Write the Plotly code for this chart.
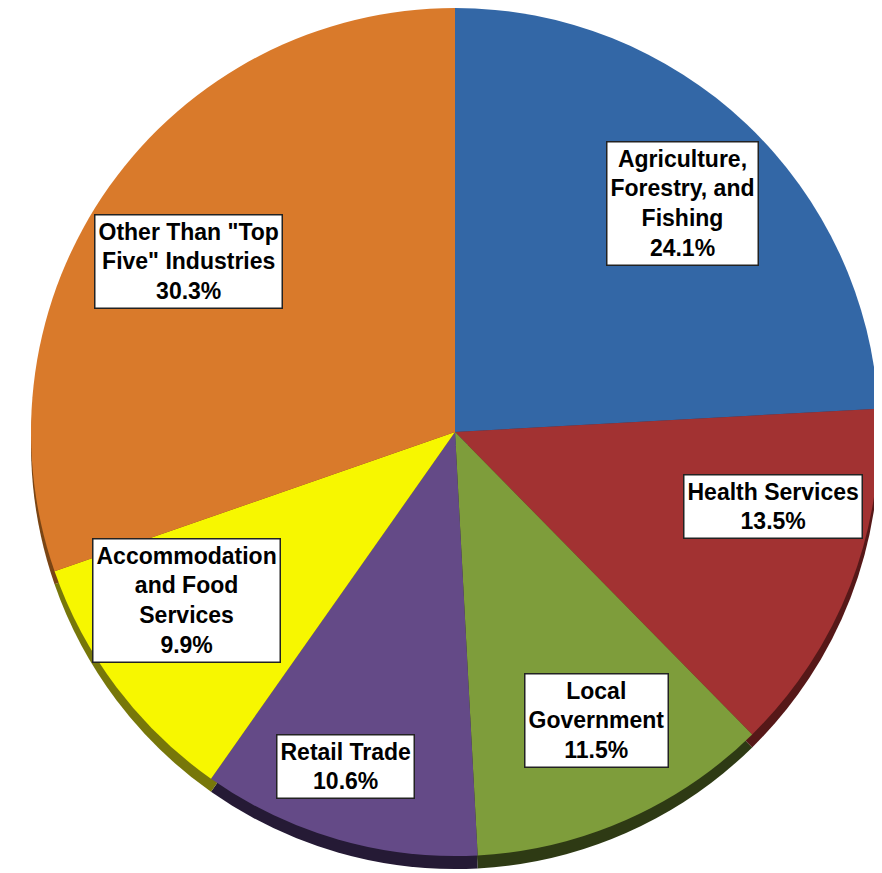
import plotly.graph_objects as go

categories = ["Agriculture, Forestry, and Fishing", "Health Services", "Local Government",
              "Retail Trade", "Accommodation and Food Services", "Other Than \"Top Five\" Industries"]
values = [24.1, 13.5, 11.5, 10.6, 9.9, 30.3]
label_texts = ["Agriculture,<br>Forestry, and<br>Fishing<br>24.1%",
               "Health Services<br>13.5%",
               "Local<br>Government<br>11.5%",
               "Retail Trade<br>10.6%",
               "Accommodation<br>and Food<br>Services<br>9.9%",
               "Other Than \"Top<br>Five\" Industries<br>30.3%"]
face_colors = ["#3367A6", "#A23232", "#7E9D3B", "#644A87", "#F7F700", "#D97A2B"]
rim_colors = ["#213F66", "#561818", "#2E3A14", "#251A35", "#77770A", "#7A4514"]
# label centres in page pixels
label_pos = [(682, 203), (772.5, 506.5), (596.5, 720), (345, 766), (186.5, 600), (188, 261)]

OFF = 8  # page body margin
W, H = 882 - OFF, 873 - OFF
cx, cy, r = 455 - OFF, 424, 424
rim = 13

def dom(cxp, cyp):
    return dict(x=[max(0, (cxp - r) / W), min(1, (cxp + r) / W)],
                y=[max(0, 1 - (cyp + r) / H), min(1, 1 - (cyp - r) / H)])

fig = go.Figure()
fig.add_trace(go.Pie(labels=categories, values=values, sort=False, direction="clockwise",
                     rotation=0, textinfo="none", hoverinfo="skip",
                     marker=dict(colors=rim_colors, line=dict(width=0)),
                     domain=dom(cx, cy + rim), showlegend=False))
fig.add_trace(go.Pie(labels=categories, values=values, sort=False, direction="clockwise",
                     rotation=0, textinfo="none",
                     marker=dict(colors=face_colors, line=dict(width=0)),
                     domain=dom(cx, cy), showlegend=False))

for txt, (x, y) in zip(label_texts, label_pos):
    fig.add_annotation(x=(x - OFF) / W, y=1 - (y - OFF) / H, xref="paper", yref="paper",
                       text="<b>" + txt + "</b>", showarrow=False,
                       font=dict(family="Liberation Sans, Arial", size=23, color="black"),
                       bgcolor="white", bordercolor="#222", borderwidth=1.5, borderpad=3,
                       xanchor="center", yanchor="middle", align="center")

fig.update_layout(width=W, height=H, margin=dict(l=0, r=0, t=0, b=0),
                  paper_bgcolor="white", plot_bgcolor="white", showlegend=False)
fig.write_html("out.html")
